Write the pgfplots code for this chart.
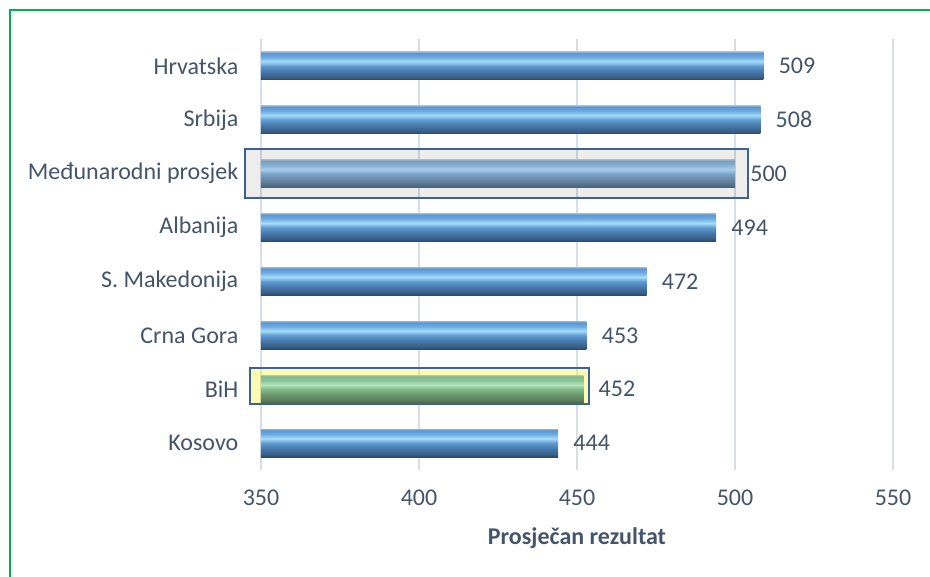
\documentclass[border=0pt]{standalone}
\usepackage{fontspec}
\setmainfont{Carlito}
\usepackage{pgfplots}
\pgfplotsset{compat=1.18}

\definecolor{txtc}{RGB}{68,84,106}
\definecolor{gridc}{RGB}{217,222,230}
\definecolor{boxc}{RGB}{58,98,148}
\definecolor{greenc}{RGB}{0,176,80}

\definecolor{bA}{RGB}{40,72,105}
\definecolor{bB}{RGB}{55,95,135}
\definecolor{bC}{RGB}{70,120,170}
\definecolor{bD}{RGB}{95,155,210}
\definecolor{bE}{RGB}{165,220,248}
\definecolor{bF}{RGB}{110,170,225}
\definecolor{bG}{RGB}{90,150,210}
\definecolor{bH}{RGB}{140,175,210}

\definecolor{gA}{RGB}{70,95,120}
\definecolor{gB}{RGB}{85,110,135}
\definecolor{gC}{RGB}{105,138,170}
\definecolor{gD}{RGB}{125,163,200}
\definecolor{gE}{RGB}{165,208,235}
\definecolor{gF}{RGB}{130,172,208}
\definecolor{gG}{RGB}{120,160,198}
\definecolor{gH}{RGB}{160,175,190}

\definecolor{eA}{RGB}{75,100,70}
\definecolor{eB}{RGB}{90,125,90}
\definecolor{eC}{RGB}{105,150,110}
\definecolor{eD}{RGB}{130,185,140}
\definecolor{eE}{RGB}{180,230,190}
\definecolor{eF}{RGB}{140,195,150}
\definecolor{eG}{RGB}{130,185,140}
\definecolor{eH}{RGB}{170,195,170}

\pgfdeclareverticalshading{barblue}{100bp}{color(0bp)=(bA); color(25bp)=(bA); color(30bp)=(bB); color(40bp)=(bC); color(50bp)=(bD); color(58bp)=(bE); color(66bp)=(bF); color(73bp)=(bG); color(75bp)=(bH); color(100bp)=(bH)}
\pgfdeclareverticalshading{bargray}{100bp}{color(0bp)=(gA); color(25bp)=(gA); color(30bp)=(gB); color(40bp)=(gC); color(50bp)=(gD); color(58bp)=(gE); color(66bp)=(gF); color(73bp)=(gG); color(75bp)=(gH); color(100bp)=(gH)}
\pgfdeclareverticalshading{bargreen}{100bp}{color(0bp)=(eA); color(25bp)=(eA); color(30bp)=(eB); color(40bp)=(eC); color(50bp)=(eD); color(58bp)=(eE); color(66bp)=(eF); color(73bp)=(eG); color(75bp)=(eH); color(100bp)=(eH)}

\begin{document}
\begin{tikzpicture}
\path[use as bounding box] (-195.75pt,-80.25pt) rectangle (501.75pt,352.5pt);
\begin{axis}[
  at={(0pt,0pt)}, anchor=south west,
  scale only axis, width=474pt, height=323.25pt,
  xmin=350, xmax=550, ymin=-0.5, ymax=7.5,
  xtick={350,400,450,500,550},
  ytick={0,1,2,3,4,5,6,7},
  yticklabels={Kosovo,BiH,Crna Gora,S. Makedonija,Albanija,Međunarodni prosjek,Srbija,Hrvatska},
  xmajorgrids, ymajorgrids=false,
  major grid style={draw=gridc, line width=1.2pt},
  axis line style={draw=none},
  major tick length=0pt, tick style={draw=none},
  ticklabel style={font=\fontsize{18}{21.6}\selectfont, text=txtc},
  xticklabel style={yshift=-11.5pt},
  yticklabel style={xshift=-13.5pt},
  /pgf/number format/assume math mode=true,
  xbar, bar width=21pt, bar shift=0pt,
  nodes near coords,
  nodes near coords style={font=\fontsize{18}{21.6}\selectfont, text=txtc, anchor=west, xshift=8pt},
  clip mode=individual,
  xlabel={\bfseries Prosječan rezultat},
  xlabel style={at={(axis description cs:0.5,0)}, anchor=center, yshift=-51pt, font=\fontsize{18}{21.6}\selectfont, text=txtc},
]
\draw[draw=boxc, line width=1.5pt, fill=black, fill opacity=0.07] (axis cs:344.9,4.546) rectangle (axis cs:504.1,5.456);
\draw[draw=boxc, line width=1.5pt, fill=yellow, fill opacity=0.3] (axis cs:346.5,0.724) rectangle (axis cs:453.8,1.392);
\addplot[draw=none, shading=barblue] coordinates {(509,7)};
\addplot[draw=none, shading=barblue] coordinates {(508,6)};
\addplot[draw=none, shading=bargray] coordinates {(500,5)};
\addplot[draw=none, shading=barblue] coordinates {(494,4)};
\addplot[draw=none, shading=barblue] coordinates {(472,3)};
\addplot[draw=none, shading=barblue] coordinates {(453,2)};
\addplot[draw=none, shading=bargreen] coordinates {(452,1)};
\addplot[draw=none, shading=barblue] coordinates {(444,0)};
\end{axis}
\draw[greenc, line width=1.5pt] (-188.25pt,-80.25pt) -- (-188.25pt,345pt) -- (501.75pt,345pt);
\end{tikzpicture}
\end{document}
